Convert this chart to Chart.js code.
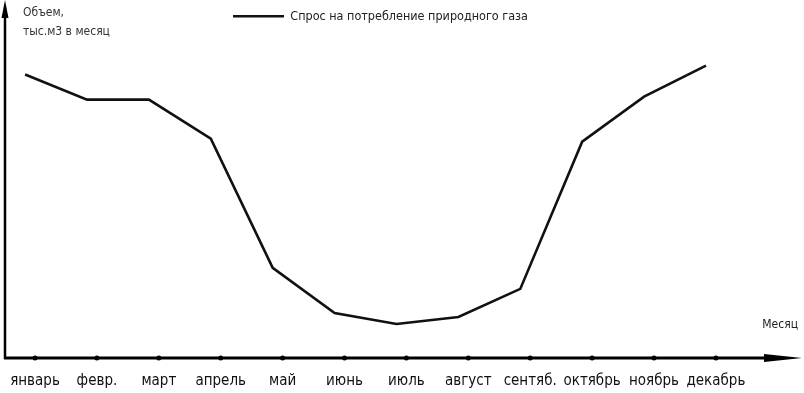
<!DOCTYPE html>
<html lang="ru">
<head>
<meta charset="utf-8">
<script src="https://cdn.jsdelivr.net/npm/chart.js@4"></script>
<style>
  html, body { margin: 0; padding: 0; background: #fff; }
  #wrap { width: 804px; height: 393px; }
</style>
</head>
<body>
<div id="wrap"><canvas id="canvas"></canvas></div>
<script>
// данные графика
const months = ['январь', 'февр.', 'март', 'апрель', 'май', 'июнь', 'июль', 'август', 'сентяб.', 'октябрь', 'ноябрь', 'декабрь'];
const demand = [283, 258, 258, 219, 90, 45, 34, 41, 69, 216, 261, 292];
const seriesLabel = 'Спрос на потребление природного газа';
const yTitle = ['Объем,', 'тыс.м3 в месяц'];
const xTitle = 'Месяц';

const FONT = "'Liberation Sans Narrow', 'DejaVu Sans Condensed', 'Arial Narrow', sans-serif";
const dataShift = -0.16; // линия чуть левее точек на оси

// оси со стрелками и подписи
const axisArrows = {
    id: 'axisArrows',
    beforeDatasetsDraw(chart) {
        const { ctx, chartArea: a, width } = chart;
        ctx.save();
        ctx.strokeStyle = '#000';
        ctx.fillStyle = '#000';
        ctx.lineWidth = 3;
        // ось X
        ctx.beginPath();
        ctx.moveTo(a.left - 1, a.bottom);
        ctx.lineTo(width - 30, a.bottom);
        ctx.stroke();
        ctx.beginPath();
        ctx.moveTo(width - 2, a.bottom);
        ctx.lineTo(width - 40, a.bottom - 4);
        ctx.lineTo(width - 40, a.bottom + 4);
        ctx.closePath();
        ctx.fill();
        // ось Y
        ctx.lineWidth = 2.5;
        ctx.beginPath();
        ctx.moveTo(a.left, a.bottom + 1);
        ctx.lineTo(a.left, 12);
        ctx.stroke();
        ctx.beginPath();
        ctx.moveTo(a.left, 0);
        ctx.lineTo(a.left - 3.5, 18);
        ctx.lineTo(a.left + 3.5, 18);
        ctx.closePath();
        ctx.fill();
        ctx.restore();
    },
    afterDraw(chart) {
        const { ctx, chartArea: a, width } = chart;
        ctx.save();
        ctx.font = '12px ' + FONT;
        ctx.fillStyle = '#333';
        ctx.textBaseline = 'middle';
        ctx.textAlign = 'left';
        ctx.fillText(yTitle[0], a.left + 18, 13);
        ctx.fillText(yTitle[1], a.left + 18, 32);
        ctx.textAlign = 'right';
        ctx.fillStyle = '#222';
        ctx.fillText(xTitle, width - 6, a.bottom - 33);
        ctx.restore();
    }
};

const ctx = document.getElementById('canvas').getContext('2d');
new Chart(ctx, {
    type: 'scatter',
    data: {
        datasets: [{
            label: seriesLabel,
            data: demand.map((v, i) => ({ x: i + dataShift, y: v })),
            showLine: true,
            borderColor: '#111',
            backgroundColor: '#111',
            borderWidth: 2.6,
            pointRadius: 0,
            tension: 0
        }, {
            label: 'ticks',
            data: months.map((m, i) => ({ x: i, y: 0 })),
            showLine: false,
            pointRadius: 2.5,
            pointHoverRadius: 2.5,
            backgroundColor: '#000',
            borderColor: '#000',
            borderWidth: 0,
            clip: false
        }]
    },
    options: {
        responsive: true,
        maintainAspectRatio: false,
        animation: false,
        layout: { padding: { left: 5, right: 48, top: 0, bottom: 0 } },
        plugins: {
            tooltip: { enabled: false },
            legend: {
                position: 'top',
                align: 'center',
                labels: {
                    filter: item => item.datasetIndex === 0,
                    usePointStyle: true,
                    pointStyle: 'line',
                    pointStyleWidth: 51,
                    color: '#222',
                    font: { family: FONT, size: 12.5 },
                    padding: 10
                }
            }
        },
        scales: {
            x: {
                type: 'linear',
                min: -0.485,
                max: 11.648,
                afterBuildTicks: scale => {
                    scale.ticks = months.map((m, i) => ({ value: i }));
                },
                afterFit: scale => {
                    scale.height = 35;
                    scale.paddingLeft = 0;
                    scale.paddingRight = 0;
                },
                grid: { display: false, drawTicks: false },
                border: { display: false },
                ticks: {
                    callback: v => months[v],
                    autoSkip: false,
                    maxRotation: 0,
                    color: '#111',
                    padding: 14,
                    font: { family: FONT, size: 15 }
                }
            },
            y: {
                display: false,
                min: 0,
                max: 325
            }
        }
    },
    plugins: [axisArrows]
});
</script>
</body>
</html>
